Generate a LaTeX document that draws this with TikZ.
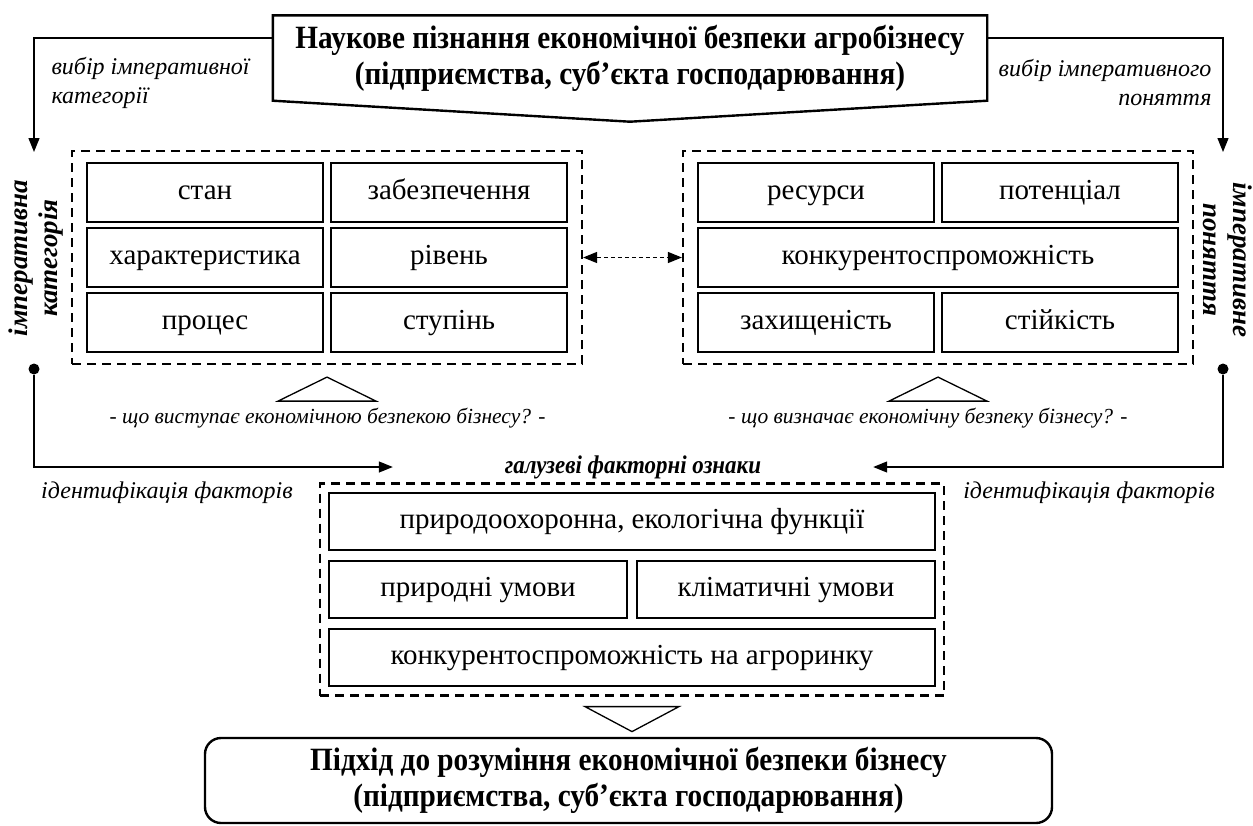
\documentclass[tikz,border=0pt]{standalone}
\usepackage{fontspec}
\setmainfont{Liberation Serif}
\newfontfamily\narrowfont{Liberation Serif}[FakeStretch=0.9]
\usetikzlibrary{arrows.meta,positioning,fit}

\begin{document}
\begin{tikzpicture}[x=1pt,y=-1pt,>={Triangle[length=14pt,width=11pt]},
    node distance=6pt and 8pt,
    cell/.style={draw,line width=2.4pt,outer sep=0pt,inner sep=2pt,minimum height=59pt,
      text height=13.5pt,text depth=0pt,font=\fontsize{29}{32}\selectfont},
    group/.style={draw,line width=2.2pt,dash pattern=on 9pt off 6pt,inner xsep=15pt,inner ysep=12pt},
    note/.style={font=\itshape\fontsize{24}{29}\selectfont},
    query/.style={font=\itshape\fontsize{21.5}{26}\selectfont},
    heading/.style={font=\bfseries\itshape\fontsize{27}{30}\selectfont},
    title/.style={font=\narrowfont\bfseries\fontsize{32.5}{36}\selectfont,align=center},
    link/.style={line width=1.3pt},
    dot/.style={circle,fill,inner sep=0pt,minimum size=11pt}]

\useasboundingbox (0,0) rectangle (1253,825);

% top box
\node [title,minimum width=714pt,minimum height=85pt] (science) at (630,58)
    {Наукове пізнання економічної безпеки агробізнесу\\(підприємства, суб’єкта господарювання)};
\draw [line width=2.4pt] (science.north west) -- (science.north east) -- (science.south east)
    -- ([yshift=-21pt]science.south) -- (science.south west) -- cycle;

% categories
\node [cell,minimum width=236pt] (state) at (205,192.5) {стан};
\node [cell,minimum width=236pt] (support) [right=of state] {забезпечення};
\node [cell,minimum width=236pt] (feature) [below=of state] {характеристика};
\node [cell,minimum width=236pt] (level) [below=of support] {рівень};
\node [cell,minimum width=236pt] (process) [below=of feature] {процес};
\node [cell,minimum width=236pt] (degree) [below=of level] {ступінь};
\node [group,fit=(state) (degree)] (categories) {};

% concepts
\node [cell,minimum width=236pt] (resources) at (816,192.5) {ресурси};
\node [cell,minimum width=236pt] (potential) [right=of resources] {потенціал};
\node [cell,minimum width=480pt] (competit) [below=of resources.south west,anchor=north west] {конкурентоспроможність};
\node [cell,minimum width=236pt] (security) [below=of resources,yshift=-65pt] {захищеність};
\node [cell,minimum width=236pt] (stability) [right=of security] {стійкість};
\node [group,fit=(resources) (stability)] (concepts) {};

\draw [<->,link,dash pattern=on 4pt off 3pt] (categories) -- (concepts);

% side labels
\node [heading,rotate=90,align=center] (catlabel) at (36,258) {імперативна\\категорія};
\node [heading,rotate=-90,align=center] (conlabel) at (1228,260) {імперативне\\поняття};

\coordinate (catin) at (34,152);
\coordinate (conin) at (1223,152);
\draw [->,link] ([yshift=20pt]science.west) -| (catin);
\draw [->,link] ([yshift=20pt]science.east) -| (conin);
\node [note,align=left,anchor=west] (catchoice) at (48,83) {вибір імперативної\\категорії};
\node [note,align=right,anchor=east] (conchoice) at (1215,83) {вибір імперативного\\поняття};

% questions
\draw [link] ([yshift=-12pt]categories.south) -- ++(49,24) -- ++(-98,0) -- cycle;
\draw [link] ([yshift=-12pt]concepts.south) -- ++(49,24) -- ++(-98,0) -- cycle;
\node [query] (catq) at (327.5,418) {- що виступає економічною безпекою бізнесу? -};
\node [query] (conq) at (928,418) {- що визначає економічну безпеку бізнесу? -};

% factors
\node [heading,font=\narrowfont\bfseries\itshape\fontsize{25.5}{30}\selectfont,minimum width=480pt,inner sep=0pt] (factors) at (633,467) {галузеві факторні ознаки};
\node [dot] (catout) at (34,369) {};
\node [dot] (conout) at (1223,369) {};
\draw [->,link] (catout) |- (factors.west);
\draw [->,link] (conout) |- (factors.east);
\node [note] (catident) at (167,493) {ідентифікація факторів};
\node [note] (conident) at (1089,493) {ідентифікація факторів};

\node [cell,minimum width=606pt,minimum height=57pt] (ecology) at (632,521.5) {природоохоронна, екологічна функції};
\node [cell,minimum width=298pt,minimum height=57pt] (nature) [below=11pt of ecology.south west,anchor=north west] {природні умови};
\node [cell,minimum width=298pt,minimum height=57pt] (climate) [below=11pt of ecology.south east,anchor=north east] {кліматичні умови};
\node [cell,minimum width=606pt,minimum height=57pt] (market) [below=79pt of ecology] {конкурентоспроможність на агроринку};
\node [group,fit=(ecology) (market),inner xsep=9pt,inner ysep=9.5pt] (branch) {};

\draw [link] ([yshift=-10pt]branch.south) ++(-47,0) -- ++(94,0) -- ++(-47,25) -- cycle;

% result
\node [title,draw,line width=2.4pt,rounded corners=16pt,minimum width=847pt,minimum height=85pt] (approach) at (628.5,780.5)
    {Підхід до розуміння економічної безпеки бізнесу\\(підприємства, суб’єкта господарювання)};

\end{tikzpicture}
\end{document}
